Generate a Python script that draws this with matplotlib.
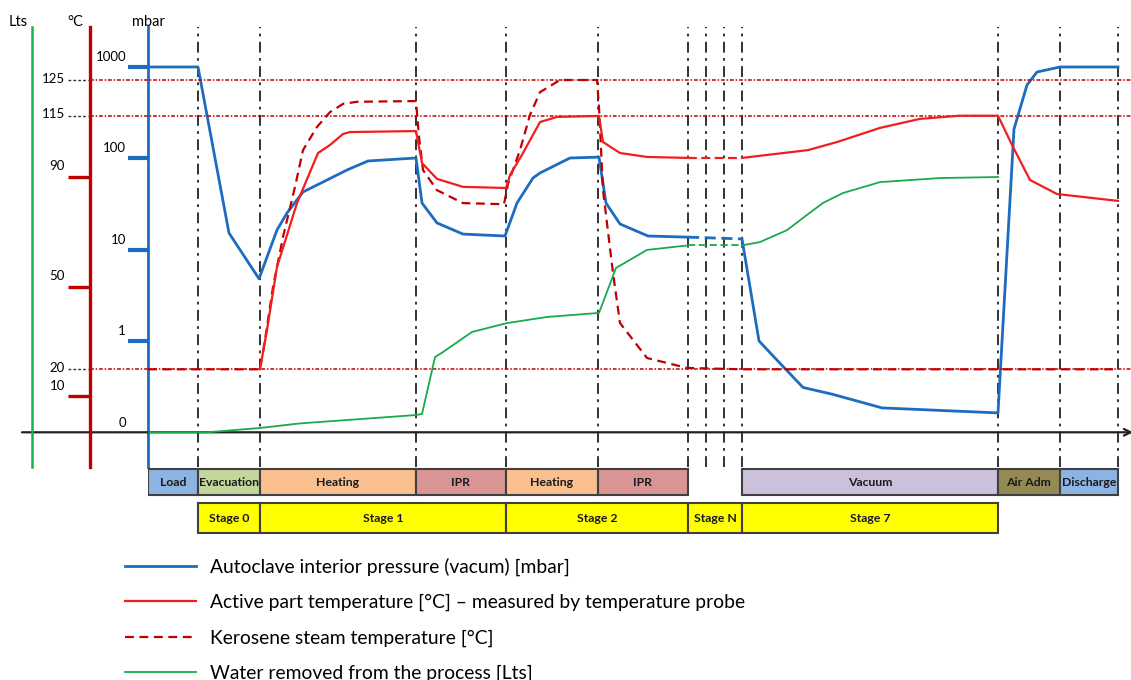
import numpy as np
import matplotlib
matplotlib.use('Agg')
import matplotlib.pyplot as plt
from matplotlib.ticker import NullLocator, FixedLocator

plt.rcParams['font.family'] = ['Lato', 'DejaVu Sans']

# ---------------- data (time in arbitrary process units) ----------------
phase_names = ['Load', 'Evacuation', 'Heating', 'IPR', 'Heating', 'IPR', 'Vacuum', 'Air Adm', 'Discharge']
phase_start = [0, 50, 112, 268, 358, 450, 594, 850, 912]
phase_end = [50, 112, 268, 358, 450, 540, 850, 912, 970]
phase_colors = ['#8db3e2', '#c3d69b', '#fac090', '#d99594', '#fac090', '#d99594', '#ccc1da', '#948a54', '#8db3e2']

stage_names = ['Stage 0', 'Stage 1', 'Stage 2', 'Stage N', 'Stage 7']
stage_start = [50, 112, 358, 540, 594]
stage_end = [112, 358, 540, 594, 850]

event_times = [50, 112, 268, 358, 450, 540, 558, 576, 594, 850, 912, 970]
stage_n = (540, 594)

# Autoclave interior pressure [mbar]
p_t = [0, 50, 81, 111, 129, 139, 155, 175, 199, 220, 268, 274, 289, 315, 357, 369, 385, 392, 422, 451,
       458, 472, 500, 540, 594, 611, 632, 655, 685, 734, 850, 866, 879, 889, 912, 970]
p_v = [1000, 1000, 15.2, 4.8, 16.4, 25.2, 42.8, 55.0, 74.5, 93.5, 100.8, 32.4, 19.6, 14.8, 14.1, 32.4, 60.9, 69.1, 100.8, 103,
       32.4, 19.1, 14.1, 13.7, 13.1, 1.0, 0.57, 0.31, 0.26, 0.185, 0.163, 209, 635, 881, 1000, 1000]

# Active part temperature [degC]
a_t = [112, 119, 129, 149, 170, 182, 195, 202, 268, 274, 289, 315, 358, 362, 375, 392, 409, 451, 455, 472, 499,
       540, 594, 660, 689, 732, 772, 812, 850, 865, 882, 909, 970]
a_v = [20, 34.3, 57.2, 80.4, 99.7, 103.0, 107.5, 108.3, 108.7, 95.6, 89.2, 86.3, 85.9, 90.7, 99.7, 112.4, 114.5, 114.9, 104.2, 99.7, 98.1,
       97.7, 97.7, 100.9, 104.2, 110.0, 113.7, 115.0, 115.0, 102.2, 88.8, 83.7, 81.2]

# Kerosene steam temperature [degC]
k_t = [0, 112, 117, 125, 135, 147, 155, 169, 182, 195, 209, 268, 271, 275, 289, 315, 356, 360, 372, 382, 392, 412, 449,
       451, 455, 465, 472, 499, 539, 594, 970]
k_v = [20, 20, 30.6, 49.9, 68.1, 86.3, 100.9, 110.4, 116.0, 118.3, 118.9, 119.1, 106.3, 92.7, 85.1, 80.4, 80.0, 87.4, 100.9, 115.2, 121.6, 125, 125,
       117.4, 85.1, 55.0, 36.8, 24.1, 20.5, 20, 20]

# Water removed [Lts]
w_t = [0, 59, 112, 152, 268, 274, 287, 295, 324, 359, 399, 451, 468, 499, 540, 594, 612, 639, 655, 675, 695, 732, 792, 850]
w_v = [0, 0, 1.7, 3.5, 6.8, 7.2, 29.6, 31.6, 39.5, 43.0, 45.4, 47.0, 64.7, 71.8, 73.6, 73.6, 74.9, 79.6, 84.4, 90.3, 94.2, 98.5, 100.1, 100.5]

p_ticks = [1, 10, 100, 1000]
t_ticks = [10, 50, 90]
t_refs = [125, 115, 20]

legend_labels = ['Autoclave interior pressure (vacum) [mbar]',
                 'Active part temperature [\u00b0C] \u2013 measured by temperature probe',
                 'Kerosene steam temperature [\u00b0C]',
                 'Water removed from the process [Lts]']

# ---------------- layout ----------------
W, H = 1131, 680
def fx(px): return px / W
def fy(py): return 1 - py / H

AXL, AXR, AXT, AXB, BASE = 148, 1128, 27, 467, 432.3
XSPAN = AXR - AXL
def axfrac(px): return (px - AXL) / XSPAN

C_BLUE = '#1d6cc0'
C_RED = '#f21d1d'
C_DRED = '#c00000'
C_GREEN = '#1aaa4a'
C_AXGREEN = '#19b04b'

fig = plt.figure(figsize=(W / 100, H / 100), dpi=100)
ax_p = fig.add_axes([fx(AXL), fy(AXB), XSPAN / W, (AXB - AXT) / H])
ax_p.set_xlim(0, 980)

# pressure: log axis, 91.33 px per decade, 0.1 mbar at baseline
DEC = 91.33
ax_p.set_yscale('log')
ax_p.set_ylim(0.1 * 10 ** (-(AXB - BASE) / DEC), 0.1 * 10 ** ((BASE - AXT) / DEC))

# temperature: schematic (piecewise) axis
T_ANCH = np.array([-20, 10, 20, 50, 90, 115, 125, 150])
H_ANCH = np.array([-44.7, 36.3, 63, 145.6, 255.6, 316.6, 352.3, 439.8])
def t_fwd(v): return np.interp(v, T_ANCH, H_ANCH)
def t_inv(h): return np.interp(h, H_ANCH, T_ANCH)

ax_t = ax_p.twinx()
ax_t.set_yscale('function', functions=(t_fwd, t_inv))
ax_t.set_ylim(float(t_inv(-(AXB - BASE))), float(t_inv(BASE - AXT)))

ax_w = ax_p.twinx()
W_PX = 2.54
ax_w.set_ylim(-(AXB - BASE) / W_PX, (BASE - AXT) / W_PX)

for a in (ax_p, ax_t, ax_w):
    for s in ('top', 'right', 'bottom'):
        a.spines[s].set_visible(False)
    a.set_xticks([])
    a.yaxis.set_minor_locator(NullLocator())
    a.tick_params(labelleft=False, labelright=False)

ax_p.spines['left'].set_color(C_BLUE)
ax_p.spines['left'].set_linewidth(2.0)
ax_p.yaxis.set_major_locator(FixedLocator(p_ticks))
ax_p.tick_params(axis='y', direction='out', length=14.4, width=3.0, color=C_BLUE, left=True, right=False)

ax_t.yaxis.tick_left()
ax_t.spines['left'].set_visible(True)
ax_t.spines['left'].set_position(('axes', axfrac(90)))
ax_t.spines['left'].set_color(C_DRED)
ax_t.spines['left'].set_linewidth(2.4)
ax_t.yaxis.set_major_locator(FixedLocator(t_ticks))
ax_t.yaxis.set_minor_locator(NullLocator())
ax_t.tick_params(axis='y', direction='out', length=15.8, width=2.4, color=C_DRED, left=True, right=False,
                 labelleft=False, labelright=False)

ax_w.yaxis.tick_left()
ax_w.spines['left'].set_visible(True)
ax_w.spines['left'].set_position(('axes', axfrac(32)))
ax_w.spines['left'].set_color(C_AXGREEN)
ax_w.spines['left'].set_linewidth(1.8)
ax_w.tick_params(axis='y', left=False, right=False, labelleft=False, labelright=False)

# tick labels
ytr_p = ax_p.get_yaxis_transform()
for v in p_ticks:
    ax_p.annotate(f'{v:g}', xy=(axfrac(126), v), xycoords=ytr_p, xytext=(0, 7.2),
                  textcoords='offset points', ha='right', va='center', fontsize=9.5, annotation_clip=False)
ax_p.annotate('0', xy=(axfrac(126), 0.1), xycoords=ytr_p, xytext=(0, 6.5),
              textcoords='offset points', ha='right', va='center', fontsize=9.5, annotation_clip=False)

ytr_t = ax_t.get_yaxis_transform()
for v in t_ticks:
    ax_t.annotate(f'{v:g}', xy=(axfrac(65), v), xycoords=ytr_t, xytext=(0, 7.5),
                  textcoords='offset points', ha='right', va='center', fontsize=9.5, annotation_clip=False)
for v in t_refs:
    ax_t.annotate(f'{v:g}', xy=(axfrac(65), v), xycoords=ytr_t, xytext=(0, 1),
                  textcoords='offset points', ha='right', va='center', fontsize=9.5, annotation_clip=False)

# reference lines
ax_t.hlines(t_refs, axfrac(68), axfrac(88), transform=ytr_t, colors='#333333',
            linestyles=(0, (2, 1.5)), lw=1.0, clip_on=False)
ax_t.hlines(t_refs, axfrac(90), axfrac(1131), transform=ytr_t, colors=C_DRED,
            linestyles=(0, (2.5, 1.2, 1, 1.2)), lw=1.1, clip_on=False, zorder=1)

# event lines
ax_p.vlines(event_times, 0, 1, transform=ax_p.get_xaxis_transform(), colors='#222222',
            linestyles=(0, (6, 3, 1.5, 3)), lw=1.3, zorder=1)

# baseline arrow
ax_p.annotate('', xy=(axfrac(1133), 0.1), xytext=(axfrac(22), 0.1), xycoords=ytr_p,
              arrowprops=dict(arrowstyle='->', lw=1.6, color='#222222', shrinkA=0, shrinkB=0,
                              mutation_scale=12), annotation_clip=False)

# axis headers
fig.text(fx(18), fy(25.5), 'Lts', ha='center', va='baseline', fontsize=10.5)
fig.text(fx(75), fy(25.5), '\u00b0C', ha='center', va='baseline', fontsize=10.5)
fig.text(fx(148), fy(25.5), 'mbar', ha='center', va='baseline', fontsize=10.5)

# series with dashed section during Stage N
def draw(ax, t, v, color, lw, dash_all=False, label=None, ls='-'):
    t = np.asarray(t, float); v = np.asarray(v, float)
    a, b = stage_n
    if dash_all:
        return ax.plot(t, v, color=color, lw=lw, ls=ls, label=label, zorder=3)[0]
    m1 = t <= a; m2 = (t >= a) & (t <= b); m3 = t >= b
    h = ax.plot(t[m1], v[m1], color=color, lw=lw, label=label, zorder=3)[0]
    ax.plot(t[m2], v[m2], color=color, lw=lw, ls=(0, (4, 2)), zorder=3)
    ax.plot(t[m3], v[m3], color=color, lw=lw, zorder=3)
    return h

h_w = draw(ax_w, w_t, w_v, C_GREEN, 1.3)
h_k = draw(ax_t, k_t, k_v, C_DRED, 1.6, dash_all=True, ls=(0, (4, 2.5)))
h_a = draw(ax_t, a_t, a_v, C_RED, 1.6)
h_p = draw(ax_p, p_t, p_v, C_BLUE, 2.0)
for a in (ax_t, ax_w):
    a.set_xlim(0, 980)

# phase / stage boxes
ax_b = fig.add_axes([fx(AXL), fy(540), XSPAN / W, (540 - 465) / H])
ax_b.set_xlim(0, 980)
ax_b.set_ylim(540, 465)
ax_b.axis('off')
ps = np.array(phase_start); pe = np.array(phase_end)
ax_b.barh(482, pe - ps, left=ps, height=25.5, color=phase_colors, edgecolor='#404040', lw=1.5)
for n, s, e in zip(phase_names, ps, pe):
    ax_b.text((s + e) / 2, 483, n, ha='center', va='center', fontsize=8.8, fontweight='bold', color='#1a1a1a')
ss = np.array(stage_start); se = np.array(stage_end)
ax_b.barh(518, se - ss, left=ss, height=29.5, color='#ffff00', edgecolor='#404040', lw=1.5)
for n, s, e in zip(stage_names, ss, se):
    ax_b.text((s + e) / 2, 519, n, ha='center', va='center', fontsize=8.8, fontweight='bold', color='#1a1a1a')

# legend
fig.legend([h_p, h_a, h_k, h_w], legend_labels, loc='upper left', bbox_to_anchor=(fx(125), fy(558)),
           frameon=False, fontsize=13.9, handlelength=3.7, handletextpad=0.72, labelspacing=0.92,
           borderaxespad=0, borderpad=0)

fig.savefig('out.png', dpi=100)
